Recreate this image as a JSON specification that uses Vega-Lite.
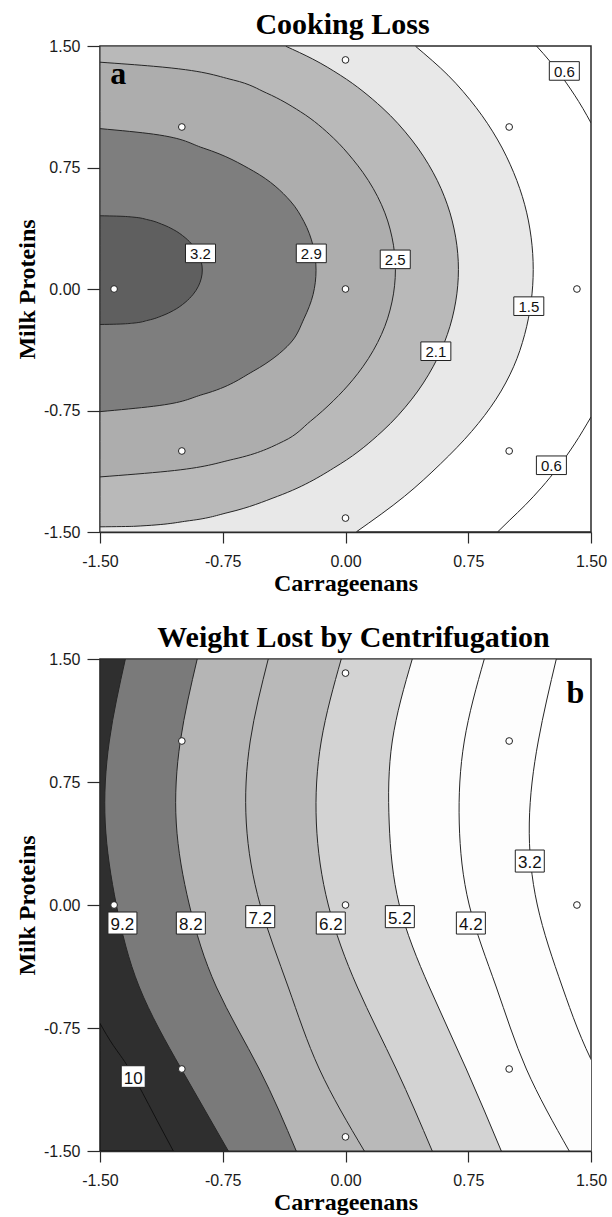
{
  "$schema": "https://vega.github.io/schema/vega-lite/v6.json",
  "background": "white",
  "padding": {"left": 14, "top": 9, "right": 0, "bottom": 0},
  "spacing": 26,
  "config": {
    "locale": {"number": {"decimal": ".", "thousands": ",", "grouping": [3], "currency": ["$", ""], "minus": "-"}},
    "view": {"stroke": "#2a2a2a", "strokeWidth": 1.5},
    "axis": {"grid": false, "domainColor": "#2a2a2a", "domainWidth": 1.5, "tickColor": "#2a2a2a", "tickWidth": 1.2, "labelFont": "Liberation Sans", "labelFontSize": 16, "labelColor": "#1a1a1a", "titleFont": "Liberation Serif", "titleFontSize": 24, "titleFontWeight": "bold", "titleColor": "black", "labelFlush": false, "labelOverlap": false, "labelBound": false},
    "axisX": {"tickSize": 11, "labelPadding": 10, "titlePadding": 2},
    "axisY": {"tickSize": 13, "labelPadding": 7, "titlePadding": 4},
    "title": {"font": "Liberation Serif", "fontSize": 30, "fontWeight": "bold", "color": "black", "anchor": "middle", "offset": -2}
  },
  "datasets": {
    "ca": [
      {"c": "1.5", "y": 1.5, "x": 0.426},
      {"c": "1.5", "y": 1.32, "x": 0.626},
      {"c": "1.5", "y": 1.12, "x": 0.798},
      {"c": "1.5", "y": 0.92, "x": 0.93},
      {"c": "1.5", "y": 0.72, "x": 1.027},
      {"c": "1.5", "y": 0.52, "x": 1.095},
      {"c": "1.5", "y": 0.32, "x": 1.134},
      {"c": "1.5", "y": 0.12, "x": 1.147},
      {"c": "1.5", "y": -0.08, "x": 1.134},
      {"c": "1.5", "y": -0.28, "x": 1.095},
      {"c": "1.5", "y": -0.48, "x": 1.027},
      {"c": "1.5", "y": -0.68, "x": 0.92},
      {"c": "1.5", "y": -0.88, "x": 0.77},
      {"c": "1.5", "y": -1.08, "x": 0.58},
      {"c": "1.5", "y": -1.28, "x": 0.36},
      {"c": "1.5", "y": -1.5, "x": 0.065},
      {"c": "2.1", "y": 1.5, "x": -0.368},
      {"c": "2.1", "y": 1.42, "x": -0.201},
      {"c": "2.1", "y": 1.32, "x": -0.032},
      {"c": "2.1", "y": 1.12, "x": 0.223},
      {"c": "2.1", "y": 0.92, "x": 0.405},
      {"c": "2.1", "y": 0.72, "x": 0.535},
      {"c": "2.1", "y": 0.52, "x": 0.6225},
      {"c": "2.1", "y": 0.32, "x": 0.673},
      {"c": "2.1", "y": 0.12, "x": 0.69},
      {"c": "2.1", "y": -0.08, "x": 0.673},
      {"c": "2.1", "y": -0.28, "x": 0.6225},
      {"c": "2.1", "y": -0.48, "x": 0.535},
      {"c": "2.1", "y": -0.68, "x": 0.405},
      {"c": "2.1", "y": -0.88, "x": 0.223},
      {"c": "2.1", "y": -1.08, "x": -0.032},
      {"c": "2.1", "y": -1.28, "x": -0.416},
      {"c": "2.1", "y": -1.38, "x": -0.718},
      {"c": "2.1", "y": -1.43, "x": -0.952},
      {"c": "2.1", "y": -1.465, "x": -1.295},
      {"c": "2.1", "y": -1.468, "x": -1.5},
      {"c": "2.5", "y": 1.4, "x": -1.5},
      {"c": "2.5", "y": 1.375, "x": -1.174},
      {"c": "2.5", "y": 1.29, "x": -0.685},
      {"c": "2.5", "y": 1.21, "x": -0.483},
      {"c": "2.5", "y": 1.095, "x": -0.276},
      {"c": "2.5", "y": 0.932, "x": -0.074},
      {"c": "2.5", "y": 0.8, "x": 0.045},
      {"c": "2.5", "y": 0.72, "x": 0.106},
      {"c": "2.5", "y": 0.52, "x": 0.22},
      {"c": "2.5", "y": 0.32, "x": 0.284},
      {"c": "2.5", "y": 0.12, "x": 0.305},
      {"c": "2.5", "y": -0.08, "x": 0.284},
      {"c": "2.5", "y": -0.28, "x": 0.22},
      {"c": "2.5", "y": -0.48, "x": 0.106},
      {"c": "2.5", "y": -0.56, "x": 0.045},
      {"c": "2.5", "y": -0.69, "x": -0.074},
      {"c": "2.5", "y": -0.816, "x": -0.214},
      {"c": "2.5", "y": -0.94, "x": -0.379},
      {"c": "2.5", "y": -1.051, "x": -0.685},
      {"c": "2.5", "y": -1.125, "x": -1.088},
      {"c": "2.5", "y": -1.16, "x": -1.5},
      {"c": "2.9", "y": 0.99, "x": -1.5},
      {"c": "2.9", "y": 0.956, "x": -1.174},
      {"c": "2.9", "y": 0.87, "x": -0.869},
      {"c": "2.9", "y": 0.728, "x": -0.563},
      {"c": "2.9", "y": 0.543, "x": -0.337},
      {"c": "2.9", "y": 0.416, "x": -0.254},
      {"c": "2.9", "y": 0.266, "x": -0.198},
      {"c": "2.9", "y": 0.116, "x": -0.18},
      {"c": "2.9", "y": -0.034, "x": -0.198},
      {"c": "2.9", "y": -0.184, "x": -0.254},
      {"c": "2.9", "y": -0.334, "x": -0.337},
      {"c": "2.9", "y": -0.507, "x": -0.563},
      {"c": "2.9", "y": -0.65, "x": -0.869},
      {"c": "2.9", "y": -0.724, "x": -1.174},
      {"c": "2.9", "y": -0.757, "x": -1.5},
      {"c": "3.2", "y": 0.452, "x": -1.5},
      {"c": "3.2", "y": 0.45, "x": -1.4},
      {"c": "3.2", "y": 0.444, "x": -1.3},
      {"c": "3.2", "y": 0.427, "x": -1.206},
      {"c": "3.2", "y": 0.397, "x": -1.115},
      {"c": "3.2", "y": 0.367, "x": -1.052},
      {"c": "3.2", "y": 0.317, "x": -0.98},
      {"c": "3.2", "y": 0.267, "x": -0.931},
      {"c": "3.2", "y": 0.217, "x": -0.899},
      {"c": "3.2", "y": 0.117, "x": -0.875},
      {"c": "3.2", "y": 0.017, "x": -0.899},
      {"c": "3.2", "y": -0.033, "x": -0.931},
      {"c": "3.2", "y": -0.083, "x": -0.98},
      {"c": "3.2", "y": -0.133, "x": -1.052},
      {"c": "3.2", "y": -0.163, "x": -1.115},
      {"c": "3.2", "y": -0.193, "x": -1.206},
      {"c": "3.2", "y": -0.211, "x": -1.3},
      {"c": "3.2", "y": -0.217, "x": -1.4},
      {"c": "3.2", "y": -0.219, "x": -1.5}
    ],
    "ka": [
      {"c": "top", "x": 1.167, "y": 1.5},
      {"c": "top", "x": 1.25, "y": 1.404},
      {"c": "top", "x": 1.35, "y": 1.271},
      {"c": "top", "x": 1.45, "y": 1.115},
      {"c": "top", "x": 1.5, "y": 1.025},
      {"c": "bot", "x": 0.929, "y": -1.5},
      {"c": "bot", "x": 1.0, "y": -1.43},
      {"c": "bot", "x": 1.1, "y": -1.332},
      {"c": "bot", "x": 1.2, "y": -1.223},
      {"c": "bot", "x": 1.3, "y": -1.099},
      {"c": "bot", "x": 1.4, "y": -0.956},
      {"c": "bot", "x": 1.5, "y": -0.79}
    ],
    "la": [
      {"t": "3.2", "x": -0.886, "y": 0.22},
      {"t": "2.9", "x": -0.209, "y": 0.22},
      {"t": "2.5", "x": 0.304, "y": 0.183},
      {"t": "2.1", "x": 0.552, "y": -0.384},
      {"t": "1.5", "x": 1.12, "y": -0.106},
      {"t": "0.6", "x": 1.337, "y": 1.346},
      {"t": "0.6", "x": 1.258, "y": -1.088}
    ],
    "pts": [
      {"x": -1.414, "y": 0},
      {"x": 1.414, "y": 0},
      {"x": 0, "y": 1.414},
      {"x": 0, "y": -1.414},
      {"x": -1, "y": -1},
      {"x": 1, "y": -1},
      {"x": -1, "y": 1},
      {"x": 1, "y": 1},
      {"x": 0, "y": 0}
    ],
    "cb": [
      {"c": "3.2", "y": 1.5, "x": 1.288},
      {"c": "3.2", "y": 1.0, "x": 1.178},
      {"c": "3.2", "y": 0.5, "x": 1.123},
      {"c": "3.2", "y": 0.0, "x": 1.172},
      {"c": "3.2", "y": -0.5, "x": 1.325},
      {"c": "3.2", "y": -1.0, "x": 1.53},
      {"c": "3.2", "y": -1.5, "x": 1.85},
      {"c": "4.2", "y": 1.5, "x": 0.848},
      {"c": "4.2", "y": 1.0, "x": 0.726},
      {"c": "4.2", "y": 0.5, "x": 0.695},
      {"c": "4.2", "y": 0.0, "x": 0.756},
      {"c": "4.2", "y": -0.5, "x": 0.921},
      {"c": "4.2", "y": -1.0, "x": 1.105},
      {"c": "4.2", "y": -1.5, "x": 1.367},
      {"c": "5.2", "y": 1.5, "x": 0.408},
      {"c": "5.2", "y": 1.0, "x": 0.286},
      {"c": "5.2", "y": 0.5, "x": 0.267},
      {"c": "5.2", "y": 0.0, "x": 0.329},
      {"c": "5.2", "y": -0.5, "x": 0.512},
      {"c": "5.2", "y": -1.0, "x": 0.738},
      {"c": "5.2", "y": -1.5, "x": 0.952},
      {"c": "6.2", "y": 1.5, "x": -0.026},
      {"c": "6.2", "y": 1.0, "x": -0.148},
      {"c": "6.2", "y": 0.5, "x": -0.178},
      {"c": "6.2", "y": 0.0, "x": -0.105},
      {"c": "6.2", "y": -0.5, "x": 0.072},
      {"c": "6.2", "y": -1.0, "x": 0.31},
      {"c": "6.2", "y": -1.5, "x": 0.53},
      {"c": "7.2", "y": 1.5, "x": -0.472},
      {"c": "7.2", "y": 1.0, "x": -0.582},
      {"c": "7.2", "y": 0.5, "x": -0.606},
      {"c": "7.2", "y": 0.0, "x": -0.521},
      {"c": "7.2", "y": -0.5, "x": -0.35},
      {"c": "7.2", "y": -1.0, "x": -0.16},
      {"c": "7.2", "y": -1.5, "x": 0.115},
      {"c": "8.2", "y": 1.5, "x": -0.906},
      {"c": "8.2", "y": 1.0, "x": -1.009},
      {"c": "8.2", "y": 0.5, "x": -1.034},
      {"c": "8.2", "y": 0.0, "x": -0.954},
      {"c": "8.2", "y": -0.5, "x": -0.789},
      {"c": "8.2", "y": -1.0, "x": -0.527},
      {"c": "8.2", "y": -1.5, "x": -0.301},
      {"c": "9.2", "y": 1.5, "x": -1.345},
      {"c": "9.2", "y": 1.0, "x": -1.443},
      {"c": "9.2", "y": 0.5, "x": -1.468},
      {"c": "9.2", "y": 0.0, "x": -1.4},
      {"c": "9.2", "y": -0.5, "x": -1.26},
      {"c": "9.2", "y": -1.0, "x": -1.003},
      {"c": "9.2", "y": -1.5, "x": -0.716},
      {"c": "10", "y": -0.722, "x": -1.5},
      {"c": "10", "y": -0.856, "x": -1.419},
      {"c": "10", "y": -1.0, "x": -1.321},
      {"c": "10", "y": -1.25, "x": -1.185},
      {"c": "10", "y": -1.5, "x": -1.052}
    ],
    "lb": [
      {"t": "9.2", "x": -1.363, "y": -0.11},
      {"t": "8.2", "x": -0.945, "y": -0.11},
      {"t": "7.2", "x": -0.521, "y": -0.071},
      {"t": "6.2", "x": -0.09, "y": -0.11},
      {"t": "5.2", "x": 0.332, "y": -0.071},
      {"t": "4.2", "x": 0.766, "y": -0.11},
      {"t": "3.2", "x": 1.126, "y": 0.268},
      {"t": "10", "x": -1.297, "y": -1.046}
    ]
  },
  "vconcat": [
    {
      "width": 491,
      "height": 486,
      "title": {"text": "Cooking Loss", "dx": -3},
      "encoding": {
        "x": {"field": "x", "type": "quantitative", "title": "Carrageenans", "scale": {"domain": [-1.5, 1.5], "nice": false, "zero": false}, "axis": {"values": [-1.5, -0.75, 0, 0.75, 1.5], "format": ".2f"}},
        "y": {"field": "y", "type": "quantitative", "title": "Milk Proteins", "scale": {"domain": [-1.5, 1.5], "nice": false, "zero": false}, "axis": {"values": [-1.5, -0.75, 0, 0.75, 1.5], "format": ".2f"}}
      },
      "layer": [
        {"data": {"name": "ca"}, "transform": [{"filter": {"field": "c", "equal": "1.5"}}], "mark": {"type": "area", "orient": "horizontal", "interpolate": "monotone", "fill": "#e8e8e8", "stroke": "#262626", "strokeWidth": 1, "clip": true}, "encoding": {"x2": {"datum": -1.5}}},
        {"data": {"name": "ca"}, "transform": [{"filter": {"field": "c", "equal": "2.1"}}], "mark": {"type": "area", "orient": "horizontal", "interpolate": "monotone", "fill": "#b9b9b9", "stroke": "#262626", "strokeWidth": 1, "clip": true}, "encoding": {"x2": {"datum": -1.5}}},
        {"data": {"name": "ca"}, "transform": [{"filter": {"field": "c", "equal": "2.5"}}], "mark": {"type": "area", "orient": "horizontal", "interpolate": "monotone", "fill": "#adadad", "stroke": "#262626", "strokeWidth": 1, "clip": true}, "encoding": {"x2": {"datum": -1.5}}},
        {"data": {"name": "ca"}, "transform": [{"filter": {"field": "c", "equal": "2.9"}}], "mark": {"type": "area", "orient": "horizontal", "interpolate": "monotone", "fill": "#7e7e7e", "stroke": "#262626", "strokeWidth": 1, "clip": true}, "encoding": {"x2": {"datum": -1.5}}},
        {"data": {"name": "ca"}, "transform": [{"filter": {"field": "c", "equal": "3.2"}}], "mark": {"type": "area", "orient": "horizontal", "interpolate": "monotone", "fill": "#5f5f5f", "stroke": "#262626", "strokeWidth": 1, "clip": true}, "encoding": {"x2": {"datum": -1.5}}},
        {"data": {"name": "ka"}, "mark": {"type": "line", "interpolate": "monotone", "stroke": "#262626", "strokeWidth": 1, "clip": true}, "encoding": {"detail": {"field": "c"}}},
        {"data": {"name": "pts"}, "mark": {"type": "point", "shape": "circle", "filled": true, "fill": "white", "stroke": "#222222", "strokeWidth": 1, "size": 45, "opacity": 1}},
        {"data": {"name": "la"}, "mark": {"type": "point", "shape": "M-1,-0.62H1V0.62H-1Z", "filled": true, "fill": "white", "stroke": "#222222", "strokeWidth": 1, "size": 900, "opacity": 1}},
        {"data": {"name": "la"}, "mark": {"type": "text", "font": "Liberation Sans", "fontSize": 15, "color": "#111111", "baseline": "middle", "dy": 1}, "encoding": {"text": {"field": "t"}}},
        {"data": {"values": [{"x": -1.437, "y": 1.265, "t": "a"}]}, "mark": {"type": "text", "font": "Liberation Serif", "fontSize": 32, "fontWeight": "bold", "align": "left", "baseline": "alphabetic", "color": "black"}, "encoding": {"text": {"field": "t"}}}
      ]
    },
    {
      "width": 491,
      "height": 492,
      "title": {"text": "Weight Lost by Centrifugation", "dx": 8},
      "encoding": {
        "x": {"field": "x", "type": "quantitative", "title": "Carrageenans", "scale": {"domain": [-1.5, 1.5], "nice": false, "zero": false}, "axis": {"values": [-1.5, -0.75, 0, 0.75, 1.5], "format": ".2f"}},
        "y": {"field": "y", "type": "quantitative", "title": "Milk Proteins", "scale": {"domain": [-1.5, 1.5], "nice": false, "zero": false}, "axis": {"values": [-1.5, -0.75, 0, 0.75, 1.5], "format": ".2f"}}
      },
      "layer": [
        {"data": {"name": "cb"}, "transform": [{"filter": {"field": "c", "equal": "3.2"}}], "mark": {"type": "area", "orient": "horizontal", "interpolate": "natural", "fill": "#fdfdfd", "stroke": "#262626", "strokeWidth": 1, "clip": true}, "encoding": {"x2": {"datum": -1.5}}},
        {"data": {"name": "cb"}, "transform": [{"filter": {"field": "c", "equal": "4.2"}}], "mark": {"type": "area", "orient": "horizontal", "interpolate": "natural", "fill": "#fdfdfd", "stroke": "#262626", "strokeWidth": 1, "clip": true}, "encoding": {"x2": {"datum": -1.5}}},
        {"data": {"name": "cb"}, "transform": [{"filter": {"field": "c", "equal": "5.2"}}], "mark": {"type": "area", "orient": "horizontal", "interpolate": "natural", "fill": "#d3d3d3", "stroke": "#262626", "strokeWidth": 1, "clip": true}, "encoding": {"x2": {"datum": -1.5}}},
        {"data": {"name": "cb"}, "transform": [{"filter": {"field": "c", "equal": "6.2"}}], "mark": {"type": "area", "orient": "horizontal", "interpolate": "natural", "fill": "#b9b9b9", "stroke": "#262626", "strokeWidth": 1, "clip": true}, "encoding": {"x2": {"datum": -1.5}}},
        {"data": {"name": "cb"}, "transform": [{"filter": {"field": "c", "equal": "7.2"}}], "mark": {"type": "area", "orient": "horizontal", "interpolate": "natural", "fill": "#b5b5b5", "stroke": "#262626", "strokeWidth": 1, "clip": true}, "encoding": {"x2": {"datum": -1.5}}},
        {"data": {"name": "cb"}, "transform": [{"filter": {"field": "c", "equal": "8.2"}}], "mark": {"type": "area", "orient": "horizontal", "interpolate": "natural", "fill": "#7a7a7a", "stroke": "#262626", "strokeWidth": 1, "clip": true}, "encoding": {"x2": {"datum": -1.5}}},
        {"data": {"name": "cb"}, "transform": [{"filter": {"field": "c", "equal": "9.2"}}], "mark": {"type": "area", "orient": "horizontal", "interpolate": "natural", "fill": "#2f2f2f", "stroke": "#262626", "strokeWidth": 1, "clip": true}, "encoding": {"x2": {"datum": -1.5}}},
        {"data": {"name": "cb"}, "transform": [{"filter": {"field": "c", "equal": "10"}}], "mark": {"type": "area", "orient": "horizontal", "interpolate": "natural", "fill": "#2f2f2f", "stroke": "#111111", "strokeWidth": 1, "clip": true}, "encoding": {"x2": {"datum": -1.5}}},
        {"data": {"name": "pts"}, "mark": {"type": "point", "shape": "circle", "filled": true, "fill": "white", "stroke": "#222222", "strokeWidth": 1, "size": 45, "opacity": 1}},
        {"data": {"name": "lb"}, "transform": [{"filter": "datum.t != '10'"}], "mark": {"type": "point", "shape": "M-1,-0.76H1V0.76H-1Z", "filled": true, "fill": "white", "stroke": "#222222", "strokeWidth": 1, "size": 841, "opacity": 1}},
        {"data": {"name": "lb"}, "transform": [{"filter": "datum.t == '10'"}], "mark": {"type": "point", "shape": "M-1,-0.9H1V0.9H-1Z", "filled": true, "fill": "white", "stroke": "#222222", "strokeWidth": 1, "size": 576, "opacity": 1}},
        {"data": {"name": "lb"}, "mark": {"type": "text", "font": "Liberation Sans", "fontSize": 17, "color": "#111111", "baseline": "middle", "dy": 2}, "encoding": {"text": {"field": "t"}}},
        {"data": {"values": [{"x": 1.459, "y": 1.234, "t": "b"}]}, "mark": {"type": "text", "font": "Liberation Serif", "fontSize": 32, "fontWeight": "bold", "align": "right", "baseline": "alphabetic", "color": "black"}, "encoding": {"text": {"field": "t"}}}
      ]
    }
  ]
}
